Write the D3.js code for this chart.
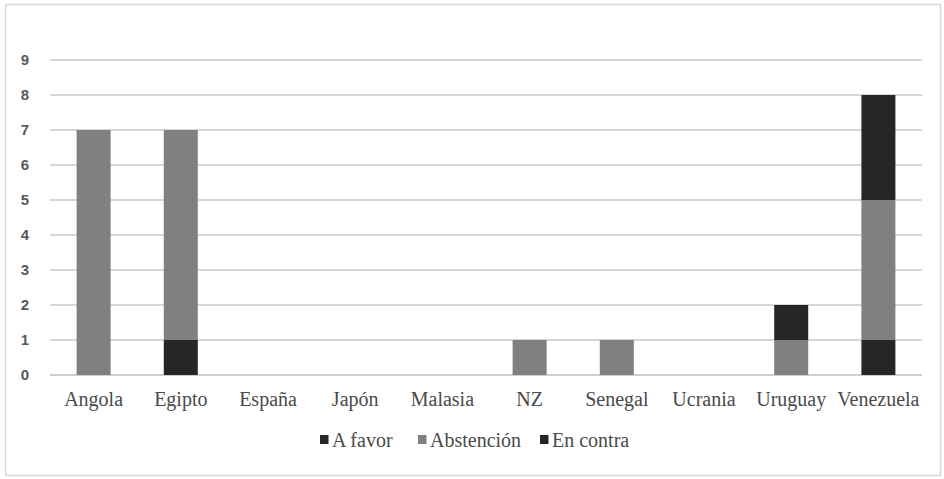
<!DOCTYPE html>
<html><head><meta charset="utf-8">
<script src="https://cdn.jsdelivr.net/npm/d3@7"></script>
<style>body{margin:0;background:#fff;} svg{display:block;}
.serif{font-family:'Liberation Serif','Times New Roman',serif;}
.sans{font-family:'Liberation Sans',Arial,sans-serif;}
</style>
</head><body>
<svg id="c" width="944" height="479"></svg>
<script>
const categories = ["Angola","Egipto","España","Japón","Malasia","NZ","Senegal","Ucrania","Uruguay","Venezuela"];
const aFavor     = [0,1,0,0,0,0,0,0,0,1];
const abstencion = [7,6,0,0,0,1,1,0,1,4];
const enContra   = [0,0,0,0,0,0,0,0,1,3];
const seriesNames = ["A favor","Abstención","En contra"];
const seriesColors = ["#262626","#808080","#262626"];
const yTicks = [0,1,2,3,4,5,6,7,8,9];

const svg = d3.select("#c");
svg.append("rect").attr("x",5.5).attr("y",4.5).attr("width",935).attr("height",471)
  .attr("fill","#fff").attr("stroke","#d9d9d9").attr("stroke-width",1.5);

const pLeft=50, pRight=922, pTop=60, pBottom=375;
const x = d3.scaleBand().domain(categories).range([pLeft,pRight]).paddingInner(0.61).paddingOuter(0.305);
const y = d3.scaleLinear().domain([0,9]).range([pBottom,pTop]);

const grid = svg.append("g");
yTicks.forEach(t=>{
  grid.append("line").attr("x1",pLeft).attr("x2",pRight).attr("y1",y(t)).attr("y2",y(t))
    .attr("stroke", t===0 ? "#bfbfbf" : "#c8c8c8").attr("stroke-width",1.3);
});

const yAxis = d3.axisLeft(y).tickValues(yTicks).tickSize(0).tickPadding(21).tickFormat(d3.format("d"));
const ya = svg.append("g").attr("transform",`translate(${pLeft},0)`).call(yAxis);
ya.attr("font-family",null);
ya.select(".domain").remove();
ya.selectAll("text").attr("class","sans").attr("font-size",15).attr("font-weight","bold").attr("fill","#595959");

const xAxis = d3.axisBottom(x).tickSize(0).tickPadding(17);
const xa = svg.append("g").attr("transform",`translate(0,${pBottom})`).call(xAxis);
xa.attr("font-family",null);
xa.select(".domain").remove();
xa.selectAll("text").attr("class","serif").attr("font-size",20).attr("fill","#4a4a4a");

const rows = categories.map((c,i)=>({cat:c,"A favor":aFavor[i],"Abstención":abstencion[i],"En contra":enContra[i]}));
const stack = d3.stack().keys(seriesNames)(rows);
stack.forEach((s,si)=>{
  svg.append("g").attr("fill",seriesColors[si]).selectAll("rect").data(s.filter(d=>d[1]>d[0])).join("rect")
    .attr("x",d=>x(d.data.cat)).attr("width",x.bandwidth())
    .attr("y",d=>y(d[1])).attr("height",d=>y(d[0])-y(d[1]));
});

const legendX=[320,418,540];
const lg = svg.append("g");
seriesNames.forEach((n,i)=>{
  lg.append("rect").attr("x",legendX[i]).attr("y",435).attr("width",8.5).attr("height",9).attr("fill",seriesColors[i]);
  lg.append("text").attr("class","serif").attr("x",legendX[i]+12).attr("y",447).text(n)
    .attr("font-size",20).attr("fill","#4a4a4a");
});
</script>
</body></html>
